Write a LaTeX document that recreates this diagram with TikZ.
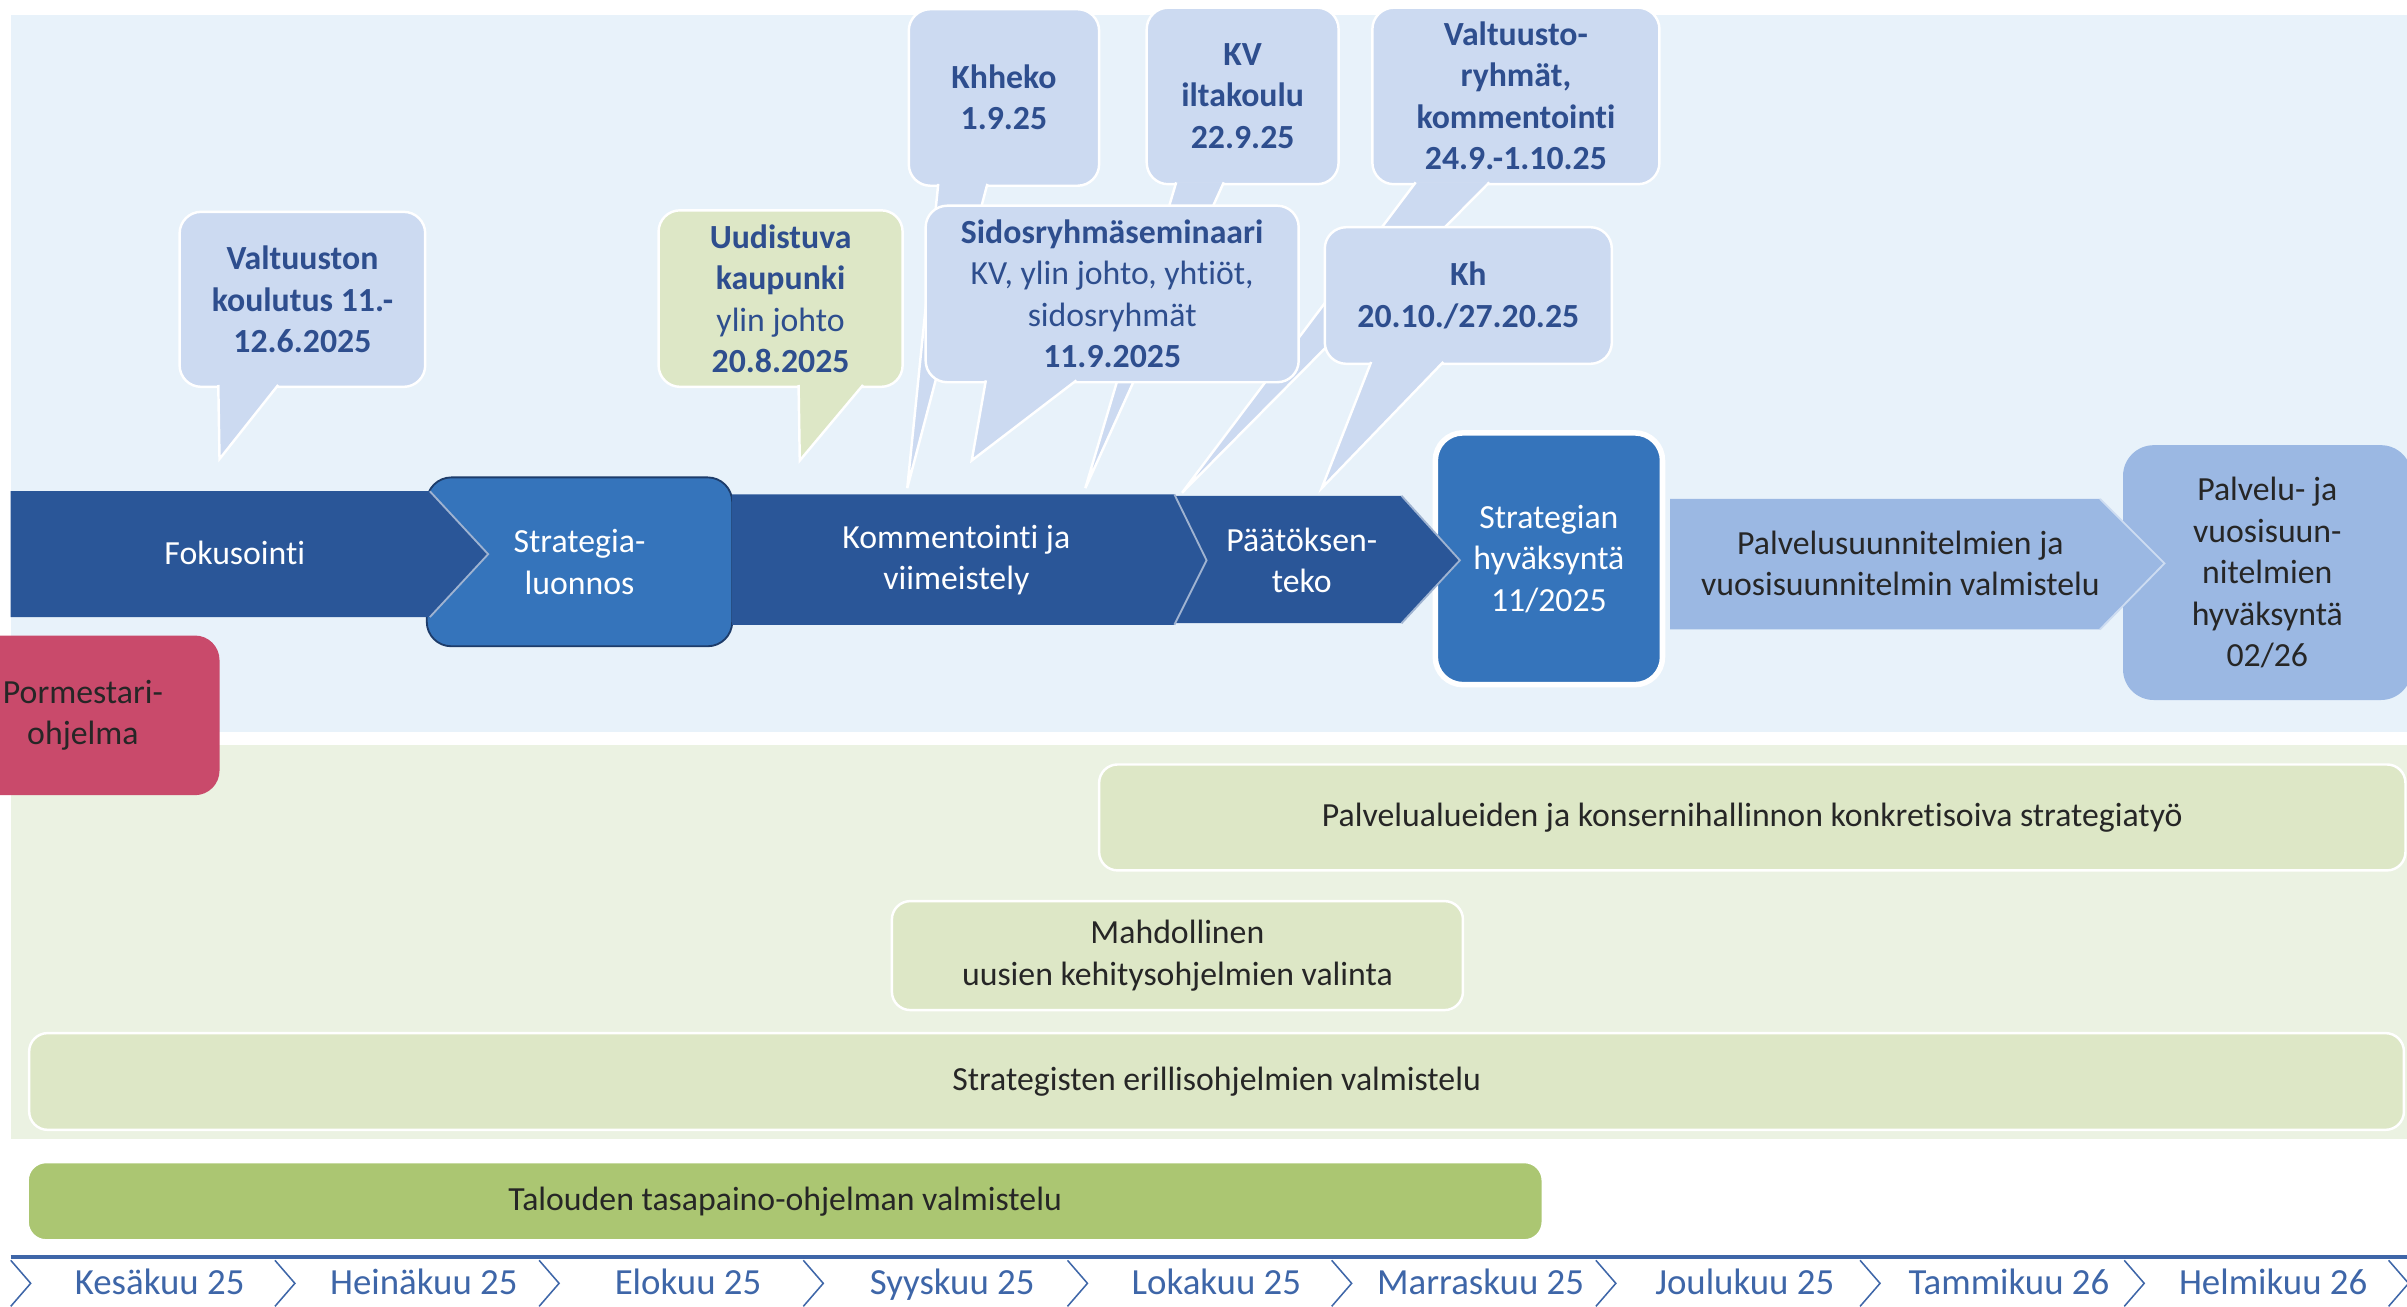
\documentclass[tikz,border=0pt]{standalone}
\usepackage{fontspec}
\setmainfont{Carlito}[Ligatures=NoCommon]
\usepackage{xcolor}
\usepackage{tikz}
\usetikzlibrary{calc}

\definecolor{bgblue}{HTML}{E8F2FA}
\definecolor{bggreen}{HTML}{EBF2E2}
\definecolor{darkproc}{HTML}{2A5698}
\definecolor{midproc}{HTML}{3574BB}
\definecolor{lightproc}{HTML}{9BB8E3}
\definecolor{bubblefill}{HTML}{CCDAF1}
\definecolor{bubbletext}{HTML}{2E4E8E}
\definecolor{greenbox}{HTML}{DDE7C6}
\definecolor{ecobar}{HTML}{ABC672}
\definecolor{pinkbox}{HTML}{C94A6B}
\definecolor{monthblue}{HTML}{3E66A8}

\begin{document}
\begin{tikzpicture}[x=0.5pt, y=-0.5pt,
    every node/.style={font=\fontsize{11}{13.5}\selectfont, align=center, inner sep=0pt},
    bubble/.style={fill=bubblefill, draw=white, line width=0.8pt, rounded corners=7pt, text=bubbletext, font=\fontsize{11}{13.5}\selectfont\bfseries},
    tail/.style={fill=bubblefill, draw=white, line width=0.8pt},
    greenrow/.style={fill=greenbox, draw=white, line width=0.8pt, rounded corners=6pt, text=black!85},
    proctext/.style={text=white},
    procedge/.style={draw=white!55!darkproc, line width=0.6pt}]
    \useasboundingbox (0,0) rectangle (1568,851);
    \fill[bgblue] (7,10) rectangle (1568,477);
    \fill[bggreen] (7,485) rectangle (1568,742);

    % top row of callouts, their tails run behind the second row
    \node[bubble, minimum width=62pt, minimum height=57.5pt] (khk) at (654,63.5) {Khheko\\1.9.25};
    \coordinate (khkt) at (591,318);
    \filldraw[tail] ($(khk.south west)+(20,-2)$) -- (khkt) -- ($(khk.south west)+(52,-2)$);
    \node[bubble, minimum width=62.5pt, minimum height=57.5pt] (kvi) at (809.5,62.5) {KV\\iltakoulu\\22.9.25};
    \coordinate (kvit) at (707,318);
    \filldraw[tail] ($(kvi.south west)+(20,-2)$) -- (kvit) -- ($(kvi.south west)+(51,-2)$);
    \node[bubble, minimum width=93.5pt, minimum height=57.5pt] (vr) at (987.5,62.5) {Valtuusto-\\ryhmät,\\kommentointi\\24.9.-1.10.25};
    \coordinate (vrt) at (770,321);
    \filldraw[tail] ($(vr.south west)+(29,-2)$) -- (vrt) -- ($(vr.south west)+(77,-2)$);

    % second row of callouts
    \node[bubble, minimum width=80pt, minimum height=57pt] (vk) at (197,195) {Valtuuston\\koulutus 11.-\\12.6.2025};
    \coordinate (vkt) at (143,299);
    \filldraw[tail] ($(vk.south west)+(26,-2)$) -- (vkt) -- ($(vk.south west)+(65,-2)$);
    \node[bubble, fill=greenbox, minimum width=79.5pt, minimum height=57.5pt] (uk) at (508.5,194.5) {Uudistuva\\kaupunki\\\mdseries ylin johto\\20.8.2025};
    \coordinate (ukt) at (521,300);
    \filldraw[tail, fill=greenbox] ($(uk.south west)+(92,-2)$) -- (ukt) -- ($(uk.south west)+(134,-2)$);
    \node[bubble, minimum width=121.5pt, minimum height=57.5pt] (sid) at (724.5,191.5) {Sidosryhmäseminaari\\\mdseries KV, ylin johto, yhtiöt,\\\mdseries sidosryhmät\\11.9.2025};
    \coordinate (sidt) at (633,300);
    \filldraw[tail] ($(sid.south west)+(40,-2)$) -- (sidt) -- ($(sid.south west)+(99,-2)$);
    \node[bubble, minimum width=93.5pt, minimum height=44.5pt] (kh) at (956.5,192.5) {Kh\\20.10./27.20.25};
    \coordinate (kht) at (861,318);
    \filldraw[tail] ($(kh.south west)+(31,-2)$) -- (kht) -- ($(kh.south west)+(78,-2)$);

    % process row
    \node[fill=midproc, draw=darkproc!70!black, line width=0.6pt, rounded corners=8pt, minimum width=99.5pt, minimum height=55pt, proctext] (sl) at (377.5,366) {Strategia-\\luonnos};
    \fill[darkproc] (7,320) -- (280,320) -- (318,361) -- (280,402) -- (7,402) -- cycle;
    \draw[procedge] (280,320) -- (318,361) -- (280,402);
    \node[proctext] (fok) at (153,360) {Fokusointi};
    \node[fill=midproc, draw=white, line width=1.8pt, rounded corners=9pt, minimum width=74pt, minimum height=82pt, proctext] (sh) at (1009,364) {Strategian\\hyväksyntä\\11/2025};
    \fill[darkproc] (765,323) -- (913,323) -- (951,365) -- (913,406) -- (765,406) -- (786,365) -- cycle;
    \draw[procedge] (913,323) -- (951,365) -- (913,406);
    \node[proctext] (pt) at (848,365) {Päätöksen-\\teko};
    \fill[darkproc] (477,322) -- (765,322) -- (786,365) -- (765,407) -- (477,407) -- cycle;
    \draw[procedge] (765,322) -- (786,365) -- (765,407);
    \node[proctext] (kom) at (623,365) {Kommentointi ja\\viimeistely};
    \node[fill=lightproc, rounded corners=10pt, minimum width=94pt, minimum height=83pt, text=black!85] (pv) at (1477,373) {Palvelu- ja\\vuosisuun-\\nitelmien\\hyväksyntä\\02/26};
    \fill[lightproc] (1088,325) -- (1368,325) -- (1410,367) -- (1368,410) -- (1088,410) -- cycle;
    \draw[white!50!lightproc, line width=0.6pt] (1368,325) -- (1410,367) -- (1368,410);
    \node[text=black!85] (ps) at (1238,367) {Palvelusuunnitelmien ja\\vuosisuunnitelmin valmistelu};

    \node[fill=pinkbox, rounded corners=8pt, minimum width=89pt, minimum height=52pt, text=black!85] (pm) at (54,466) {Pormestari-\\ohjelma};

    % green rows
    \node[greenrow, minimum width=425.5pt, minimum height=34.5pt] (pk) at (1141.5,532.5) {Palvelualueiden ja konsernihallinnon konkretisoiva strategiatyö};
    \node[greenrow, minimum width=186pt, minimum height=35.5pt] (mk) at (767,622.5) {Mahdollinen\\uusien kehitysohjelmien valinta};
    \node[greenrow, minimum width=773.5pt, minimum height=31.5pt] (se) at (792.5,704.5) {Strategisten erillisohjelmien valmistelu};
    \node[fill=ecobar, draw=white, line width=0.8pt, rounded corners=6pt, minimum width=493.5pt, minimum height=25.5pt, text=black!85] (tt) at (511.5,782.5) {Talouden tasapaino-ohjelman valmistelu};

    % months
    \draw[monthblue, line width=1.2pt] (7,819) -- (1568,819);
    \foreach \m [count=\i from 0] in {Kesäkuu 25, Heinäkuu 25, Elokuu 25, Syyskuu 25, Lokakuu 25, Marraskuu 25, Joulukuu 25, Tammikuu 26, Helmikuu 26} {
        \draw[monthblue, line width=0.5pt] (7+172.1*\i,821) -- (20+172.1*\i,836) -- (7+172.1*\i,851);
        \node[text=monthblue, font=\fontsize{12}{14}\selectfont, anchor=base] (m\i) at (104+172.1*\i,843) {\m};
    }
    \draw[monthblue, line width=0.5pt] (1556,821) -- (1569,836) -- (1556,851);
\end{tikzpicture}
\end{document}
